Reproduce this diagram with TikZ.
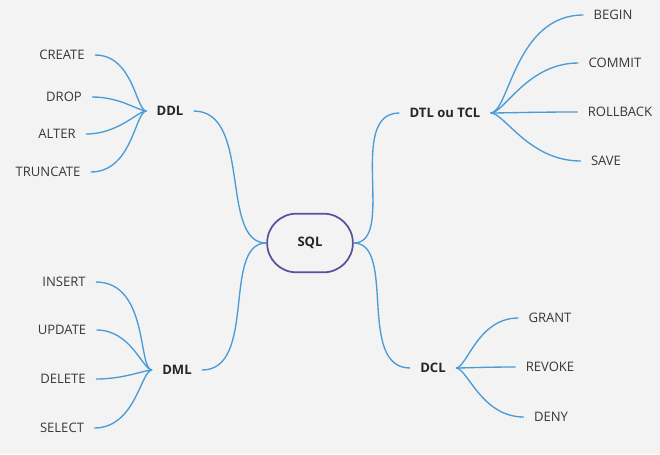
\documentclass[tikz,border=0pt]{standalone}
\usepackage{fontspec}
\setmainfont{Open Sans}
\usepackage{xcolor}
\usetikzlibrary{shapes.misc, positioning, backgrounds}
\definecolor{BranchBlue}{HTML}{4A9BD6}
\definecolor{RootPurple}{HTML}{5B4F9E}
\definecolor{PaperGray}{HTML}{F3F3F3}
\definecolor{LeafText}{HTML}{383838}

\begin{document}
\begin{tikzpicture}[x=0.75pt,y=-0.75pt,
                    main node/.style={font=\bfseries\fontsize{9.8}{11}\selectfont,text=black!85,inner xsep=7.5pt},
                    leaf node/.style={font=\fontsize{9.8}{11}\selectfont,text=LeafText,inner xsep=7.5pt},
                    root node/.style={rounded rectangle,draw=RootPurple,line width=1.3pt,minimum width=71pt,minimum height=44pt,font=\bfseries\fontsize{9.8}{11}\selectfont,text=black!85},
                    branch/.style={draw=BranchBlue,line width=1pt},
                    fan/.style={out looseness=0.35,in looseness=1.3}]
\path[fill=PaperGray,use as bounding box] (0,0) rectangle (660,454);

\node[root node] (SQL) at (310,243) {SQL};

\node[main node] (DDL) at (170,111) {DDL};
\node[main node] (DML) at (177,370) {DML};
\node[main node] (DTL) at (445,113) {DTL ou TCL};
\node[main node] (DCL) at (433,368) {DCL};

\draw[branch] (SQL.west) to[out=180,in=0,out looseness=0.8] (DDL.east);
\draw[branch] (SQL.west) to[out=180,in=0,out looseness=0.8] (DML.east);
\draw[branch] (SQL.east) to[out=0,in=180,out looseness=0.8] (DTL.west);
\draw[branch] (SQL.east) to[out=0,in=180,out looseness=0.8] (DCL.west);

\foreach \name/\x/\y/\txt in {Create/62/55/CREATE, Drop/64/97/DROP, Alter/57/134/ALTER, Truncate/48/172/TRUNCATE}
  {\node[leaf node] (\name) at (\x,\y) {\txt};
   \draw[branch] (DDL.west) to[out=180,in=0,fan] (\name.east);}

\foreach \name/\x/\y/\txt in {Insert/64/282/INSERT, Update/62/330/UPDATE, Delete/63/379/DELETE, Select/62/428/SELECT}
  {\node[leaf node] (\name) at (\x,\y) {\txt};
   \draw[branch] (DML.west) to[out=180,in=0,fan] (\name.east);}

\foreach \name/\x/\y/\txt in {Begin/613/15/BEGIN, Commit/615/63/COMMIT, Rollback/620/112/ROLLBACK, Save/606/161/SAVE}
  {\node[leaf node] (\name) at (\x,\y) {\txt};
   \draw[branch] (DTL.east) to[out=0,in=180,fan] (\name.west);}

\foreach \name/\x/\y/\txt in {Grant/550/318/GRANT, Revoke/550/367/REVOKE, Deny/551/417/DENY}
  {\node[leaf node] (\name) at (\x,\y) {\txt};
   \draw[branch] (DCL.east) to[out=0,in=180,fan] (\name.west);}

\end{tikzpicture}
\end{document}
